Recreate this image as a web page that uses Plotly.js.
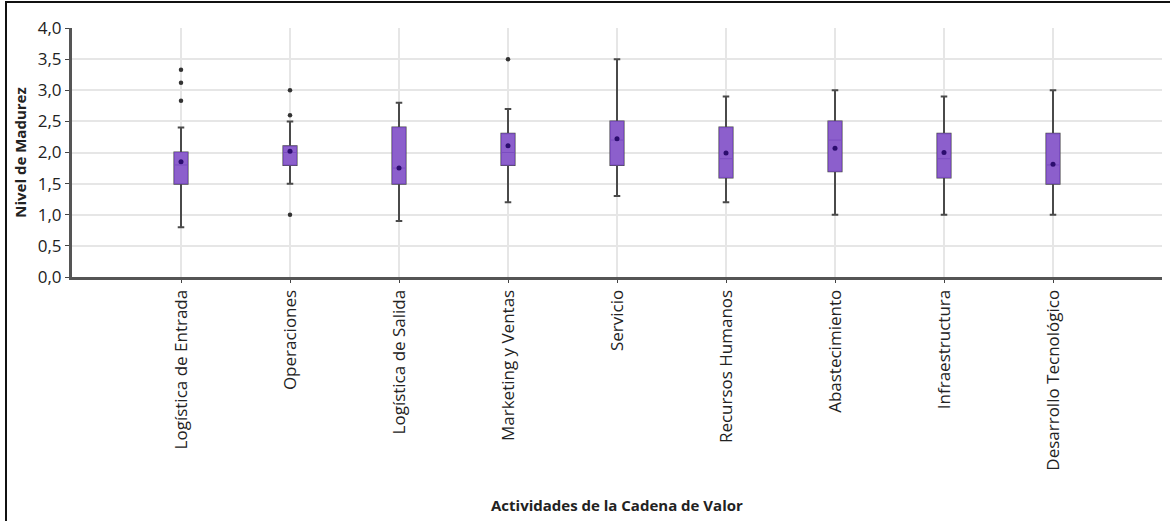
<!DOCTYPE html>
<html>
<head>
<meta charset="utf-8">
<script src="https://cdn.plot.ly/plotly-3.0.1.min.js"></script>
<style>
html,body{margin:0;padding:0;background:#fff;}
#wrap{position:relative;width:1170px;height:521px;}
#chart{width:1170px;height:521px;}
#frame{position:absolute;left:5px;top:1px;width:1165px;height:520px;border-top:2px solid #111;border-left:2px solid #111;pointer-events:none;box-sizing:border-box;}
</style>
</head>
<body>
<div id="wrap"><div id="chart"></div><div id="frame"></div></div>
<script>
const categories = ["Logística de Entrada","Operaciones","Logística de Salida","Marketing y Ventas","Servicio","Recursos Humanos","Abastecimiento","Infraestructura","Desarrollo Tecnológico"];
const lowerWhisker = [0.8, 1.5, 0.9, 1.2, 1.3, 1.2, 1.0, 1.0, 1.0];
const q1Values     = [1.5, 1.8, 1.5, 1.8, 1.8, 1.6, 1.7, 1.6, 1.5];
const medianValues = [1.8, 2.0, 1.75, 2.0, 2.2, 1.9, 2.2, 1.9, 1.8];
const q3Values     = [2.0, 2.1, 2.4, 2.3, 2.5, 2.4, 2.5, 2.3, 2.3];
const upperWhisker = [2.4, 2.5, 2.8, 2.7, 3.5, 2.9, 3.0, 2.9, 3.0];
const meanValues   = [1.85, 2.02, 1.75, 2.11, 2.22, 1.99, 2.07, 2.0, 1.81];
const outlierCategories = ["Logística de Entrada","Logística de Entrada","Logística de Entrada","Operaciones","Operaciones","Operaciones","Marketing y Ventas"];
const outlierValues     = [3.33, 3.12, 2.83, 3.0, 2.6, 1.0, 3.5];
const yTicks = [0, 0.5, 1, 1.5, 2, 2.5, 3, 3.5, 4];

const whiskerTrace = {
  type: 'box', x: categories,
  q1: q1Values, median: medianValues, q3: q3Values,
  lowerfence: lowerWhisker, upperfence: upperWhisker,
  width: 0.12, whiskerwidth: 1.1,
  line: {color: '#4a4a4a', width: 2},
  fillcolor: 'rgba(0,0,0,0)',
  boxpoints: false, hoverinfo: 'skip', showlegend: false
};
const boxTrace = {
  type: 'box', x: categories,
  q1: q1Values, median: medianValues, q3: q3Values,
  lowerfence: q1Values, upperfence: q3Values,
  width: 0.12, whiskerwidth: 0,
  line: {color: '#7a4cc0', width: 1},
  fillcolor: '#8c5fcc',
  boxpoints: false, showlegend: false
};
const meanTrace = {
  type: 'scatter', mode: 'markers', x: categories, y: meanValues,
  marker: {color: '#2b0d6e', size: 5}, showlegend: false
};
const outlierTrace = {
  type: 'scatter', mode: 'markers', x: outlierCategories, y: outlierValues,
  marker: {color: '#333333', size: 4.5}, showlegend: false
};

const layout = {
  width: 1170, height: 521,
  margin: {l: 72, r: 8, t: 28, b: 244},
  paper_bgcolor: '#ffffff', plot_bgcolor: '#ffffff',
  boxmode: 'overlay',
  separators: ',.',
  font: {family: '"Open Sans", sans-serif', color: '#222'},
  xaxis: {
    type: 'category', categoryorder: 'array', categoryarray: categories,
    range: [-1, 9],
    tickangle: -90,
    tickfont: {size: 17, color: '#222'},
    ticks: 'outside', ticklen: 3, tickcolor: '#444',
    showgrid: true, gridcolor: '#e6e6e6', gridwidth: 1.5,
    showline: true, linecolor: '#555', linewidth: 3,
    zeroline: false,
    automargin: false
  },
  yaxis: {
    range: [0, 4], tickvals: yTicks, tickformat: '.1f',
    tickfont: {size: 17, color: '#222'},
    ticks: 'outside', ticklen: 4, tickcolor: '#444',
    showgrid: true, gridcolor: '#e6e6e6', gridwidth: 2,
    showline: true, linecolor: '#555', linewidth: 3,
    zeroline: false,
    title: {text: '<b>Nivel de Madurez</b>', font: {size: 15, color: '#222'}, standoff: 8},
    automargin: false
  },
  annotations: [{
    text: '<b>Actividades de la Cadena de Valor</b>',
    xref: 'paper', yref: 'paper', x: 0.5, y: -0.916,
    xanchor: 'center', yanchor: 'middle', showarrow: false,
    font: {size: 15, color: '#222'}
  }]
};

Plotly.newPlot('chart', [whiskerTrace, boxTrace, meanTrace, outlierTrace], layout, {displayModeBar: false, staticPlot: true});
</script>
</body>
</html>
